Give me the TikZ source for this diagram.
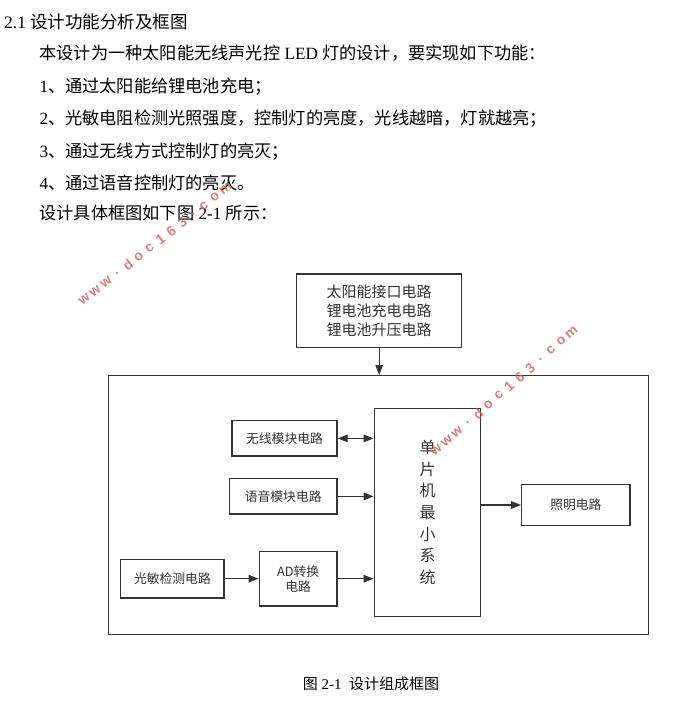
\documentclass[tikz,border=0pt]{standalone}
\usepackage{fontspec}
\setmainfont{Liberation Serif}
\newfontfamily\cjk{Noto Sans CJK SC}
\newfontfamily\wmfont{Liberation Sans Bold}
\usetikzlibrary{arrows.meta,calc}
\definecolor{linec}{HTML}{333333}
\definecolor{textc}{HTML}{333333}
\definecolor{wmc}{RGB}{200,85,85}
\begin{document}
\begin{tikzpicture}[x=1pt,y=-1pt,
  para/.style={anchor=base west,inner sep=0pt,font=\fontsize{17.2}{20}\selectfont},
  box/.style={draw=linec,line width=1.4pt,inner sep=0pt,text=textc,align=center,
    font=\cjk\fontsize{12.8}{15}\selectfont},
  arr/.style={draw=linec,line width=1.4pt,-{Triangle[length=10pt,width=7.5pt]}},
  darr/.style={draw=linec,line width=1.4pt,{Triangle[length=10pt,width=7.5pt]}-{Triangle[length=10pt,width=7.5pt]}},
  wmchar/.style={text=wmc,opacity=0.75,inner sep=0pt,font=\wmfont\fontsize{14}{14}\selectfont}]
\fill[white] (0,0) rectangle (680,705);
\useasboundingbox (0,0) rectangle (680,705);

% text
\node[para,font=\fontsize{17.5}{20}\selectfont] (h) at (4,28.3) {2.1 {\cjk 设计功能分析及框图}};
\node[para] (l1) at (39.3,59.2) {{\cjk 本设计为一种太阳能无线声光控} LED {\cjk 灯的设计，要实现如下功能：}};
\node[para] (l2) at (39.3,92.5) {1{\cjk 、通过太阳能给锂电池充电；}};
\node[para] (l3) at (39.3,124.8) {2{\cjk 、光敏电阻检测光照强度，控制灯的亮度，光线越暗，灯就越亮；}};
\node[para] (l4) at (39.3,157.5) {3{\cjk 、通过无线方式控制灯的亮灭；}};
\node[para] (l5) at (39.3,189.2) {4{\cjk 、通过语音控制灯的亮灭。}};
\node[para] (l6) at (39.3,219.8) {{\cjk 设计具体框图如下图} 2-1 {\cjk 所示：}};

% diagram
\node[box,minimum width=540.4pt,minimum height=258.6pt] (frame) at (378.5,505) {};
\node[box,minimum width=165pt,minimum height=73.3pt,font=\cjk\fontsize{15}{19.3}\selectfont] (top) at (379.2,310.7)
  {太阳能接口电路\\锂电池充电电路\\锂电池升压电路};
\node[box,minimum width=106.4pt,minimum height=208.4pt,font=\cjk\fontsize{16}{21.7}\selectfont] (mcu) at (427.5,512.5)
  {单\\片\\机\\最\\小\\系\\统};
\node[box,minimum width=105pt,minimum height=35.3pt] (wl) at (284.5,438.4) {无线模块电路};
\node[box,minimum width=107.7pt,minimum height=35.3pt] (voice) at (283.2,496.4) {语音模块电路};
\node[box,minimum width=103.3pt,minimum height=38.7pt] (light) at (172.4,578.7) {光敏检测电路};
\node[box,minimum width=77.7pt,minimum height=54.7pt] (ad) at (298.2,578.7) {AD转换\\电路};
\node[box,minimum width=108.3pt,minimum height=41.4pt] (illum) at (575.9,505) {照明电路};

\draw[arr] (top.south) -- (top.south |- frame.north);
\draw[darr] (wl.east) -- (wl.east -| mcu.west);
\draw[arr] (voice.east) -- (voice.east -| mcu.west);
\draw[arr] (light.east) -- (ad.west);
\draw[arr] (ad.east) -- (ad.east -| mcu.west);
\draw[arr] (illum.west -| mcu.east) -- (illum.west);

% caption
\node[para,font=\fontsize{15}{18}\selectfont] (cap) at (302.7,689) {{\cjk 图} 2-1\ \ {\cjk 设计组成框图}};

% watermarks
\foreach \c [count=\i] in {w,w,w,.,d,o,c,1,6,3,.,c,o,m}{
  \node[wmchar,rotate=38] (wa\i) at ($(155,244)+({(\i-7.5)*13.8*cos(38)},{-(\i-7.5)*13.8*sin(38)})$) {\c};
  \node[wmchar,rotate=41] (wb\i) at ($(504,391)+({(\i-7.5)*13.8*cos(41)},{-(\i-7.5)*13.8*sin(41)})$) {\c};
}
\end{tikzpicture}
\end{document}
